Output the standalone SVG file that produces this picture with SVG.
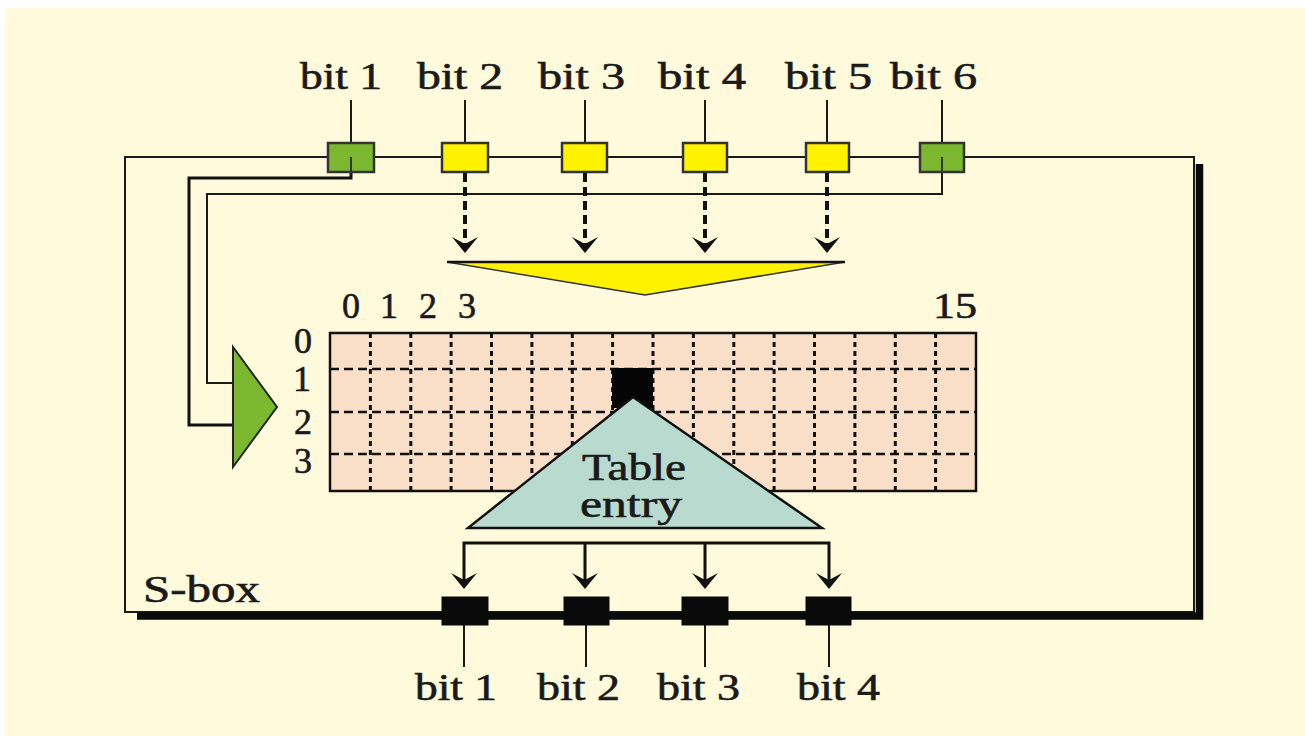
<svg xmlns="http://www.w3.org/2000/svg" width="1305" height="736" viewBox="0 0 1305 736">
<style>
text{font-family:"Times New Roman","Liberation Serif",Tinos,serif}
.lbl{font-size:37px;fill:#1a1a1a;stroke:#1a1a1a;stroke-width:0.6}
.num{font-size:36px;fill:#1a1a1a;stroke:#1a1a1a;stroke-width:0.6}
.thin{fill:none;stroke:#1a1a1a;stroke-width:2}
.med{fill:none;stroke:#111;stroke-width:3}
.dash{fill:none;stroke:#111;stroke-width:4;stroke-dasharray:9 5}
.ybox{fill:#fff200;stroke:#333;stroke-width:2.5}
.gbox{fill:#7cb82f;stroke:#333;stroke-width:2.5}
.bbox{fill:#0a0a0a;stroke:#0a0a0a;stroke-width:1}
.head{fill:#111;stroke:none}
.vgrid{stroke:#111;stroke-width:3;stroke-dasharray:5 4}
.hgrid{stroke:#111;stroke-width:2.5;stroke-dasharray:9 5}
</style>
<defs>
<path id="ah" d="M0,0 L-13,-16 L0,-9 L13,-16 Z"/>
</defs>
<rect x="0" y="0" width="1305" height="736" fill="#ffffff"/>
<rect x="5" y="8" width="1300" height="728" fill="#fffadb"/>

<g id="frame">
<rect x="125" y="157" width="1069" height="455" class="thin"/>
<path d="M137,616 H1199.5 V164" fill="none" stroke="#0a0a0a" stroke-width="7.5"/>
<text x="143" y="602" class="lbl" textLength="117" lengthAdjust="spacingAndGlyphs">S-box</text>
</g>

<g id="connectors">
<line x1="351" y1="100" x2="351" y2="143" class="thin"/>
<line x1="465" y1="100" x2="465" y2="143" class="thin"/>
<line x1="585" y1="100" x2="585" y2="143" class="thin"/>
<line x1="705" y1="100" x2="705" y2="143" class="thin"/>
<line x1="827" y1="100" x2="827" y2="143" class="thin"/>
<line x1="942" y1="100" x2="942" y2="143" class="thin"/>
<path d="M351,160 V178 H189 V425 H233" class="med"/>
<path d="M942,160 V194 H207 V383 H233" class="thin"/>
<line x1="465" y1="173" x2="465" y2="244" class="dash"/>
<line x1="585" y1="173" x2="585" y2="244" class="dash"/>
<line x1="705" y1="173" x2="705" y2="244" class="dash"/>
<line x1="827" y1="173" x2="827" y2="244" class="dash"/>
<use href="#ah" x="465" y="253" class="head"/>
<use href="#ah" x="585" y="253" class="head"/>
<use href="#ah" x="705" y="253" class="head"/>
<use href="#ah" x="827" y="253" class="head"/>
<path d="M464,580 V543 H829 V580" class="med"/>
<line x1="585" y1="543" x2="585" y2="580" class="med"/>
<line x1="705" y1="543" x2="705" y2="580" class="med"/>
<use href="#ah" x="464" y="589" class="head"/>
<use href="#ah" x="585" y="589" class="head"/>
<use href="#ah" x="705" y="589" class="head"/>
<use href="#ah" x="829" y="589" class="head"/>
<line x1="464" y1="625" x2="464" y2="667" class="thin"/>
<line x1="586" y1="625" x2="586" y2="667" class="thin"/>
<line x1="705" y1="625" x2="705" y2="667" class="thin"/>
<line x1="829" y1="625" x2="829" y2="667" class="thin"/>
</g>

<g id="in-bit1"><rect x="328" y="143" width="46" height="29" class="gbox"/><line x1="351" y1="157" x2="351" y2="172" stroke="#333" stroke-width="2"/><text x="300" y="89" class="lbl" textLength="82" lengthAdjust="spacingAndGlyphs">bit 1</text></g>
<g id="in-bit2"><rect x="442" y="143" width="46" height="29" class="ybox"/><text x="417" y="89" class="lbl" textLength="86" lengthAdjust="spacingAndGlyphs">bit 2</text></g>
<g id="in-bit3"><rect x="562" y="143" width="45" height="29" class="ybox"/><text x="538" y="89" class="lbl" textLength="87" lengthAdjust="spacingAndGlyphs">bit 3</text></g>
<g id="in-bit4"><rect x="683" y="143" width="44" height="29" class="ybox"/><text x="658" y="89" class="lbl" textLength="88" lengthAdjust="spacingAndGlyphs">bit 4</text></g>
<g id="in-bit5"><rect x="806" y="143" width="43" height="29" class="ybox"/><text x="785" y="89" class="lbl" textLength="87" lengthAdjust="spacingAndGlyphs">bit 5</text></g>
<g id="in-bit6"><rect x="920" y="143" width="44" height="29" class="gbox"/><line x1="942" y1="157" x2="942" y2="172" stroke="#333" stroke-width="2"/><text x="890" y="89" class="lbl" textLength="87" lengthAdjust="spacingAndGlyphs">bit 6</text></g>

<g id="funnel">
<polygon points="447,262 845,262 645,295" fill="#fff200" stroke="#333" stroke-width="1.5"/>
<line x1="447" y1="262" x2="845" y2="262" stroke="#111" stroke-width="2.5"/>
</g>

<g id="mux">
<polygon points="233,347 277,407 233,467" fill="#7cb82f" stroke="#222" stroke-width="2"/>
</g>

<g id="table">
<rect x="330" y="333" width="646" height="158" fill="#fadfc8"/>
<g>
<line x1="370.4" y1="333" x2="370.4" y2="491" class="vgrid"/>
<line x1="410.8" y1="333" x2="410.8" y2="491" class="vgrid"/>
<line x1="451.1" y1="333" x2="451.1" y2="491" class="vgrid"/>
<line x1="491.5" y1="333" x2="491.5" y2="491" class="vgrid"/>
<line x1="531.9" y1="333" x2="531.9" y2="491" class="vgrid"/>
<line x1="572.3" y1="333" x2="572.3" y2="491" class="vgrid"/>
<line x1="612.6" y1="333" x2="612.6" y2="491" class="vgrid"/>
<line x1="653" y1="333" x2="653" y2="491" class="vgrid"/>
<line x1="693.4" y1="333" x2="693.4" y2="491" class="vgrid"/>
<line x1="733.8" y1="333" x2="733.8" y2="491" class="vgrid"/>
<line x1="774.1" y1="333" x2="774.1" y2="491" class="vgrid"/>
<line x1="814.5" y1="333" x2="814.5" y2="491" class="vgrid"/>
<line x1="854.9" y1="333" x2="854.9" y2="491" class="vgrid"/>
<line x1="895.3" y1="333" x2="895.3" y2="491" class="vgrid"/>
<line x1="935.6" y1="333" x2="935.6" y2="491" class="vgrid"/>
<line x1="330" y1="369" x2="976" y2="369" class="hgrid"/>
<line x1="330" y1="412" x2="976" y2="412" class="hgrid"/>
<line x1="330" y1="454" x2="976" y2="454" class="hgrid"/>
</g>
<rect x="330" y="333" width="646" height="158" fill="none" stroke="#111" stroke-width="2.5"/>
<rect x="612" y="368" width="41" height="40" fill="#050505"/>
<text x="351" y="318" class="num" text-anchor="middle">0</text>
<text x="389" y="318" class="num" text-anchor="middle">1</text>
<text x="428" y="318" class="num" text-anchor="middle">2</text>
<text x="467" y="318" class="num" text-anchor="middle">3</text>
<text x="955" y="318" class="num" text-anchor="middle" textLength="44" lengthAdjust="spacingAndGlyphs">15</text>
<text x="303" y="353" class="num" text-anchor="middle">0</text>
<text x="302" y="391" class="num" text-anchor="middle">1</text>
<text x="303" y="434" class="num" text-anchor="middle">2</text>
<text x="303" y="473" class="num" text-anchor="middle">3</text>
</g>

<g id="table-entry">
<polygon points="633,397 468,528 822,528" fill="#b9dacf" stroke="#111" stroke-width="2.5"/>
<text x="582" y="480" class="lbl" textLength="104" lengthAdjust="spacingAndGlyphs">Table</text>
<text x="580" y="517" class="lbl" textLength="102" lengthAdjust="spacingAndGlyphs">entry</text>
</g>

<g id="out-bit1"><rect x="442" y="597" width="46" height="28" class="bbox"/><text x="415" y="700" class="lbl" textLength="82" lengthAdjust="spacingAndGlyphs">bit 1</text></g>
<g id="out-bit2"><rect x="564" y="597" width="45" height="28" class="bbox"/><text x="537" y="700" class="lbl" textLength="83" lengthAdjust="spacingAndGlyphs">bit 2</text></g>
<g id="out-bit3"><rect x="682" y="597" width="46" height="28" class="bbox"/><text x="657" y="700" class="lbl" textLength="83" lengthAdjust="spacingAndGlyphs">bit 3</text></g>
<g id="out-bit4"><rect x="806" y="597" width="45" height="28" class="bbox"/><text x="797" y="700" class="lbl" textLength="83" lengthAdjust="spacingAndGlyphs">bit 4</text></g>
</svg>
